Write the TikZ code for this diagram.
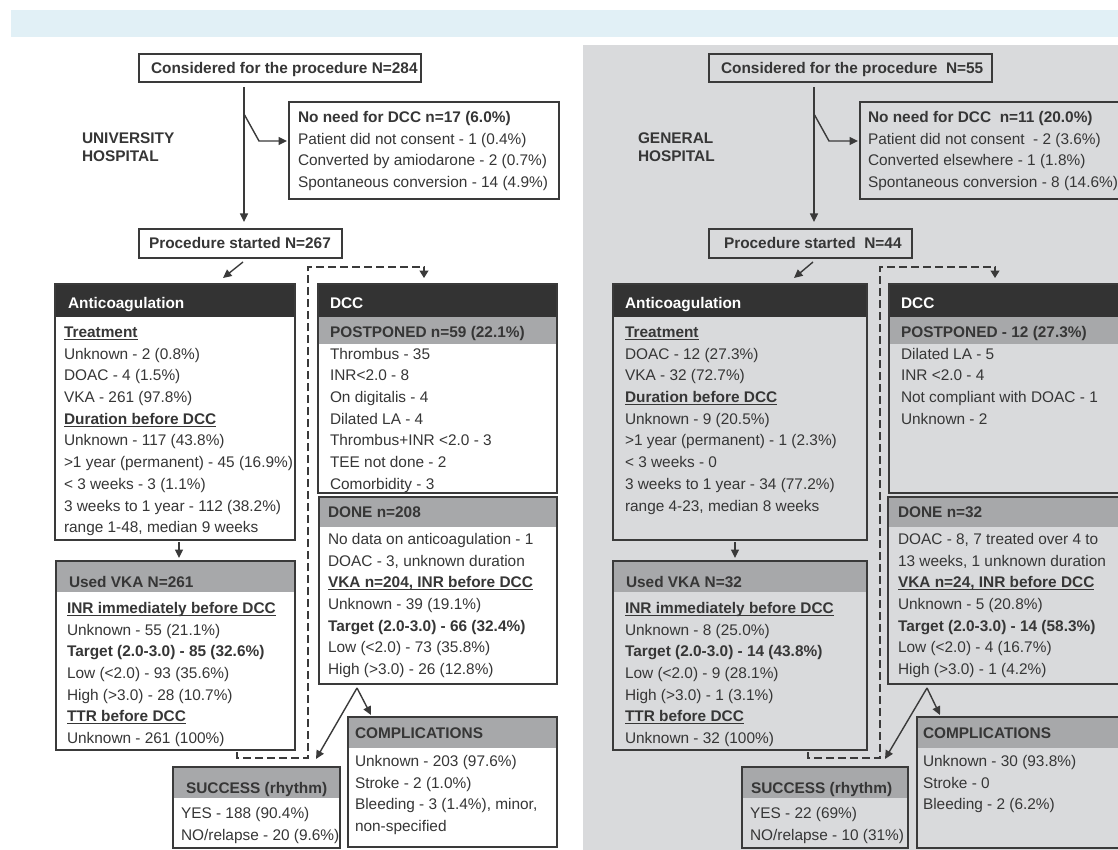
\documentclass[tikz,border=0pt]{standalone}
\usepackage{fontspec}
\setmainfont{Liberation Sans}
\usetikzlibrary{arrows.meta}
\definecolor{ink}{HTML}{363636}
\definecolor{edge}{HTML}{3A3A3A}
\definecolor{bandblue}{HTML}{E1F0F6}
\definecolor{panelgray}{HTML}{D9DADC}
\definecolor{hdrdark}{HTML}{333333}
\definecolor{hdrgray}{HTML}{A7A8AA}
\newcommand\bu[1]{\setbox0\hbox{\textbf{#1}}\rlap{\rule[-2.4pt]{\wd0}{1.1pt}}\box0}
\newcommand\mkbox[6][]{\node[box,#1,minimum width={#5-#3},minimum height={#6-#4}] (#2) at (#3,#4) {};}
\newcommand\tnode[5][]{\node[txt,#1] (#2) at (#3,{#4-9.7}) {#5};}
\tikzset{
 box/.style={draw=edge,line width=1.7pt,inner sep=0pt,outer sep=0pt,anchor=north west},
 txt/.style={inner sep=0pt,outer sep=0pt,anchor=north west,align=left,text=ink,font=\fontsize{15.4}{21.7}\selectfont},
 hb/.style={font=\fontsize{15.4}{21.7}\selectfont\bfseries},
 wh/.style={text=white},
 arr/.style={draw=edge,line width=1.4pt,-{Triangle[length=8.5pt,width=8pt]}},
 darr/.style={draw=edge,line width=1.3pt,dash pattern=on 8pt off 4pt,-{Triangle[length=7.5pt,width=9pt]}},
 darkhead/.style={path picture={\fill[hdrdark] (path picture bounding box.north west) rectangle ([yshift=-#1]path picture bounding box.north east);}},
 grayhead/.style={path picture={\fill[hdrgray] (path picture bounding box.north west) rectangle ([yshift=-#1]path picture bounding box.north east);}},
 dcchead/.style={path picture={\fill[hdrdark] (path picture bounding box.north west) rectangle ([yshift=-33pt]path picture bounding box.north east);\fill[hdrgray] ([yshift=-33pt]path picture bounding box.north west) rectangle ([yshift=-60pt]path picture bounding box.north east);}},
}
\begin{document}
\begin{tikzpicture}[x=1pt,y=-1pt]
\clip (0,0) rectangle (1118,850);
\fill[white] (0,0) rectangle (1118,850);
\fill[bandblue] (11,10) rectangle (1118,37);
\fill[panelgray] (583,45) rectangle (1118,850);

% ---------------- LEFT PANEL ----------------
\mkbox[fill=white]{nL}{139}{54}{421}{82}
\tnode[hb]{nLt}{151}{68}{\strut Considered for the procedure N=284}
\mkbox[fill=white]{nnL}{289}{102}{559}{199}
\tnode{nnLt}{298}{117}{\strut\textbf{No need for DCC n=17 (6.0\%)}\\\strut Patient did not consent - 1 (0.4\%)\\\strut Converted by amiodarone - 2 (0.7\%)\\\strut Spontaneous conversion - 14 (4.9\%)}
\node[txt,font=\fontsize{15.4}{18}\selectfont\bfseries] (uniL) at (82,{138-7.1}) {\strut UNIVERSITY\\\strut HOSPITAL};
\mkbox[fill=white]{psL}{139}{229}{342}{258}
\tnode[hb]{psLt}{149}{243}{\strut Procedure started N=267}

\mkbox[fill=white,darkhead=33pt]{acL}{55}{284}{295}{540}
\tnode[hb,wh]{acLh}{68}{303}{\strut Anticoagulation}
\tnode{acLt}{64}{332}{\strut\bu{Treatment}\\\strut Unknown - 2 (0.8\%)\\\strut DOAC - 4 (1.5\%)\\\strut VKA - 261 (97.8\%)\\\strut\bu{Duration before DCC}\\\strut Unknown - 117 (43.8\%)\\\strut >1 year (permanent) - 45 (16.9\%)\\\strut < 3 weeks - 3 (1.1\%)\\\strut 3 weeks to 1 year - 112 (38.2\%)\\\strut range 1-48, median 9 weeks}

\mkbox[fill=white,dcchead]{dccL}{318}{284}{557}{493}
\tnode[hb,wh]{dccLh}{330}{303}{\strut DCC}
\tnode{dccLt}{330}{332}{\strut\textbf{POSTPONED n=59 (22.1\%)}\\\strut Thrombus - 35\\\strut INR<2.0 - 8\\\strut On digitalis - 4\\\strut Dilated LA - 4\\\strut Thrombus+INR <2.0 - 3\\\strut TEE not done - 2\\\strut Comorbidity - 3}

\mkbox[fill=white,grayhead=30pt]{doneL}{319}{497}{557}{684}
\tnode[hb]{doneLh}{328}{512}{\strut DONE n=208}
\tnode{doneLt}{328}{539}{\strut No data on anticoagulation - 1\\\strut DOAC - 3, unknown duration\\\strut\bu{VKA n=204, INR before DCC}\\\strut Unknown - 39 (19.1\%)\\\strut\textbf{Target (2.0-3.0) - 66 (32.4\%)}\\\strut Low (<2.0) - 73 (35.8\%)\\\strut High (>3.0) - 26 (12.8\%)}

\mkbox[fill=white,grayhead=31pt]{vkaL}{56}{561}{295}{750}
\tnode[hb]{vkaLh}{69}{582}{\strut Used VKA N=261}
\tnode{vkaLt}{67}{608}{\strut\bu{INR immediately before DCC}\\\strut Unknown - 55 (21.1\%)\\\strut\textbf{Target (2.0-3.0) - 85 (32.6\%)}\\\strut Low (<2.0) - 93 (35.6\%)\\\strut High (>3.0) - 28 (10.7\%)\\\strut\bu{TTR before DCC}\\\strut Unknown - 261 (100\%)}

\mkbox[fill=white,grayhead=31pt]{sucL}{173}{767}{340}{848}
\tnode[hb]{sucLh}{186}{788}{\strut SUCCESS (rhythm)}
\tnode{sucLt}{181}{813}{\strut YES - 188 (90.4\%)\\\strut NO/relapse - 20 (9.6\%)}

\mkbox[fill=white,grayhead=31pt]{cmpL}{348}{717}{557}{847}
\tnode[hb]{cmpLh}{355}{733}{\strut COMPLICATIONS}
\tnode{cmpLt}{355}{761}{\strut Unknown - 203 (97.6\%)\\\strut Stroke - 2 (1.0\%)\\\strut Bleeding - 3 (1.4\%), minor,\\\strut non-specified}

% connectors left
\coordinate (vL) at (244,0);
\draw[arr,shorten <=5pt,shorten >=7pt] (nL.south -| vL) -- (psL.north -| vL);
\coordinate (bL1) at (244,114); \coordinate (bL2) at (259,141);
\draw[arr,shorten >=2pt] (bL1) -- (bL2) -- (nnL.west |- bL2);
\coordinate (gL1) at (243,262); \coordinate (gL2) at (223,278);
\draw[arr] (gL1) -- (gL2);
\coordinate (aL) at (179,0);
\draw[arr,shorten <=2pt,shorten >=3pt] (acL.south -| aL) -- (vkaL.north -| aL);
\coordinate (dL0) at (237,752); \coordinate (dL1) at (308,758);
\coordinate (dL2) at (308,267); \coordinate (dL3) at (424,267);
\draw[darr,shorten >=6pt] (dL0) |- (dL1) -- (dL2) -- (dL3) -- (dccL.north -| dL3);
\coordinate (pL) at (357,688); \coordinate (pLc) at (371,715); \coordinate (pLs) at (316,759);
\draw[arr] (pL) -- (pLc);
\draw[arr] (pL) -- (pLs);

% ---------------- RIGHT PANEL ----------------
\mkbox{nR}{709}{54}{992}{82}
\tnode[hb]{nRt}{721}{68}{\strut Considered for the procedure\ \ N=55}
\mkbox{nnR}{860}{102}{1130}{199}
\tnode{nnRt}{868}{117}{\strut\textbf{No need for DCC\ \ n=11 (20.0\%)}\\\strut Patient did not consent\ \ - 2 (3.6\%)\\\strut Converted elsewhere - 1 (1.8\%)\\\strut Spontaneous conversion - 8 (14.6\%)}
\node[txt,font=\fontsize{15.4}{18}\selectfont\bfseries] (genR) at (638,{138-7.1}) {\strut GENERAL\\\strut HOSPITAL};
\mkbox{psR}{709}{229}{912}{258}
\tnode[hb]{psRt}{724}{243}{\strut Procedure started\ \ N=44}

\mkbox[darkhead=33pt]{acR}{613}{284}{867}{540}
\tnode[hb,wh]{acRh}{625}{303}{\strut Anticoagulation}
\tnode{acRt}{625}{332}{\strut\bu{Treatment}\\\strut DOAC - 12 (27.3\%)\\\strut VKA - 32 (72.7\%)\\\strut\bu{Duration before DCC}\\\strut Unknown - 9 (20.5\%)\\\strut >1 year (permanent) - 1 (2.3\%)\\\strut < 3 weeks - 0\\\strut 3 weeks to 1 year - 34 (77.2\%)\\\strut range 4-23, median 8 weeks}

\mkbox[dcchead]{dccR}{889}{284}{1130}{493}
\tnode[hb,wh]{dccRh}{901}{303}{\strut DCC}
\tnode{dccRt}{901}{332}{\strut\textbf{POSTPONED - 12 (27.3\%)}\\\strut Dilated LA - 5\\\strut INR <2.0 - 4\\\strut Not compliant with DOAC - 1\\\strut Unknown - 2}

\mkbox[grayhead=30pt]{doneR}{888}{497}{1130}{684}
\tnode[hb]{doneRh}{898}{512}{\strut DONE n=32}
\tnode{doneRt}{898}{539}{\strut DOAC - 8, 7 treated over 4 to\\\strut 13 weeks, 1 unknown duration\\\strut\bu{VKA n=24, INR before DCC}\\\strut Unknown - 5 (20.8\%)\\\strut\textbf{Target (2.0-3.0) - 14 (58.3\%)}\\\strut Low (<2.0) - 4 (16.7\%)\\\strut High (>3.0) - 1 (4.2\%)}

\mkbox[grayhead=31pt]{vkaR}{613}{561}{867}{750}
\tnode[hb]{vkaRh}{626}{582}{\strut Used VKA N=32}
\tnode{vkaRt}{625}{608}{\strut\bu{INR immediately before DCC}\\\strut Unknown - 8 (25.0\%)\\\strut\textbf{Target (2.0-3.0) - 14 (43.8\%)}\\\strut Low (<2.0) - 9 (28.1\%)\\\strut High (>3.0) - 1 (3.1\%)\\\strut\bu{TTR before DCC}\\\strut Unknown - 32 (100\%)}

\mkbox[grayhead=31pt]{sucR}{742}{767}{908}{848}
\tnode[hb]{sucRh}{751}{788}{\strut SUCCESS (rhythm)}
\tnode{sucRt}{750}{813}{\strut YES - 22 (69\%)\\\strut NO/relapse - 10 (31\%)}

\mkbox[grayhead=31pt]{cmpR}{917}{717}{1130}{848}
\tnode[hb]{cmpRh}{923}{733}{\strut COMPLICATIONS}
\tnode{cmpRt}{923}{761}{\strut Unknown - 30 (93.8\%)\\\strut Stroke - 0\\\strut Bleeding - 2 (6.2\%)}

% connectors right
\coordinate (vR) at (814,0);
\draw[arr,shorten <=5pt,shorten >=7pt] (nR.south -| vR) -- (psR.north -| vR);
\coordinate (bR1) at (814,114); \coordinate (bR2) at (829,141);
\draw[arr,shorten >=2pt] (bR1) -- (bR2) -- (nnR.west |- bR2);
\coordinate (gR1) at (813,262); \coordinate (gR2) at (794,278);
\draw[arr] (gR1) -- (gR2);
\coordinate (aR) at (735,0);
\draw[arr,shorten <=2pt,shorten >=3pt] (acR.south -| aR) -- (vkaR.north -| aR);
\coordinate (dR0) at (808,752); \coordinate (dR1) at (880,758);
\coordinate (dR2) at (880,267); \coordinate (dR3) at (995,267);
\draw[darr,shorten >=6pt] (dR0) |- (dR1) -- (dR2) -- (dR3) -- (dccR.north -| dR3);
\coordinate (pR) at (927,688); \coordinate (pRc) at (940,715); \coordinate (pRs) at (885,759);
\draw[arr] (pR) -- (pRc);
\draw[arr] (pR) -- (pRs);
\end{tikzpicture}
\end{document}
